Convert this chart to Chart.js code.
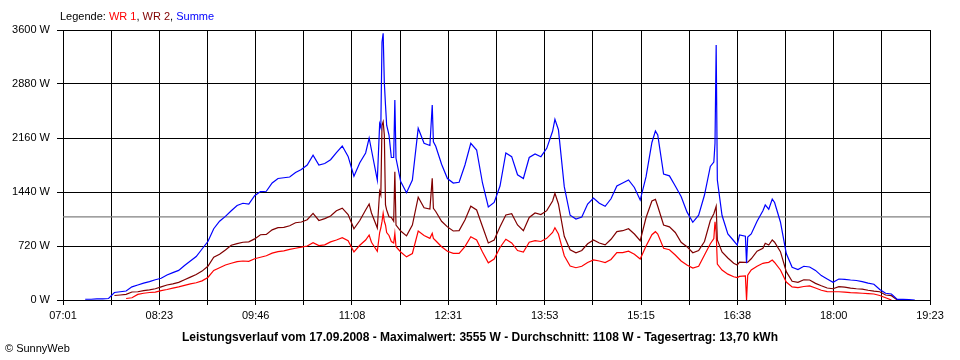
<!DOCTYPE html>
<html>
<head>
<meta charset="utf-8">
<script src="https://cdn.jsdelivr.net/npm/chart.js@4"></script>
<style>
  body { margin: 0; background: #fff; }
  #wrap { position: relative; width: 960px; height: 360px; font-family: "Liberation Sans", Arial, sans-serif; font-size: 11px; color: #000; }
  #legend { position: absolute; left: 60px; top: 10px; }
  #caption { position: absolute; left: 0; width: 960px; top: 330px; text-align: center; font-weight: bold; font-size: 12px; }
  #copy { position: absolute; left: 5px; top: 342px; }
</style>
</head>
<body>
<div id="wrap">
  <canvas id="chart" width="960" height="360"></canvas>
  <div id="legend">Legende: <span style="color:#ff0000">WR 1</span>, <span style="color:#800000">WR 2</span>, <span style="color:#0000ff">Summe</span></div>
  <div id="caption">Leistungsverlauf vom 17.09.2008 - Maximalwert: 3555 W - Durchschnitt: 1108 W - Tagesertrag: 13,70 kWh</div>
  <div id="copy">&copy; SunnyWeb</div>
</div>
<script>
// x-axis labels (every second grid line)
const tickLabels = ['07:01', '08:23', '09:46', '11:08', '12:31', '13:53', '15:15', '16:38', '18:00', '19:23'];
const yTicks = [0, 720, 1440, 2160, 2880, 3600];
const average = 1108;

// sample times, one line per block
const times = [
  '07:20','07:25','07:30','07:35','07:40','07:45','07:50','07:55',
  '08:00','08:05','08:10','08:15','08:20','08:25','08:30','08:35','08:40','08:45','08:50','08:55',
  '09:00','09:05','09:10','09:15','09:20','09:25','09:30','09:35','09:40','09:45','09:50','09:55',
  '10:00','10:05','10:10','10:15','10:20','10:25','10:30','10:35','10:40','10:45','10:50','10:55',
  '11:00','11:05','11:10','11:15','11:20','11:23','11:25','11:30','11:32','11:33','11:34','11:35','11:36','11:37','11:38','11:40','11:42','11:44','11:45','11:46','11:50','11:55',
  '12:00','12:05','12:10','12:15','12:17','12:18','12:20','12:25','12:30','12:35','12:40','12:45','12:50','12:55',
  '13:00','13:05','13:10','13:15','13:20','13:25','13:30','13:35','13:40','13:45','13:50','13:55',
  '14:00','14:02','14:05','14:10','14:15','14:20','14:25','14:30','14:35','14:40','14:45','14:50','14:55',
  '15:00','15:05','15:10','15:15','15:20','15:25','15:28','15:30','15:35','15:40','15:45','15:50','15:55',
  '16:00','16:05','16:10','16:15','16:18','16:19','16:20','16:21','16:25','16:30','16:35','16:38','16:40','16:45','16:46','16:47','16:50','16:55',
  '17:00','17:02','17:05','17:08','17:10','17:15','17:20','17:25','17:30','17:35','17:40','17:45','17:50','17:55',
  '18:00','18:05','18:10','18:15','18:20','18:25','18:30','18:35','18:40','18:45','18:50','18:55','19:00','19:05','19:10'
];

const summe = [
  10,10,15,15,20,100,110,120,
  175,200,225,245,270,290,333,365,395,460,520,580,
  680,780,950,1050,1115,1190,1260,1290,1280,1390,1445,1450,
  1560,1620,1630,1640,1700,1740,1800,1930,1800,1820,1870,1965,
  2053,1915,1650,1830,1960,2160,2000,1600,2350,2300,3440,3555,2900,2600,2330,2200,1900,1900,2667,1890,1580,1430,
  1600,2290,2090,2060,2600,2110,2050,1810,1620,1560,1570,1800,2090,2000,
  1560,1240,1300,1520,1960,1911,1670,1620,1900,1947,1911,2022,
  2250,2409,2270,1511,1130,1080,1107,1280,1360,1290,1250,1350,1520,
  1560,1600,1500,1333,1644,2100,2253,2200,1680,1655,1520,1380,1175,
  1036,1130,1400,1780,1840,2090,3400,1600,1130,880,790,733,867,850,489,840,880,1050,
  1190,1267,1210,1345,1300,1040,620,436,405,450,440,395,325,280,
  235,280,276,267,260,245,225,210,140,90,80,8,8,5,0
];

const wr2 = [
  null,null,null,null,null,60,67,75,
  107,110,125,135,150,175,200,215,235,270,305,340,
  385,450,570,610,668,730,752,770,775,815,870,875,
  935,964,968,990,1030,1040,1070,1155,1060,1085,1120,1190,
  1225,1140,950,1060,1200,1280,1160,960,1450,1400,2330,2378,2200,1267,1200,1110,1100,1050,1711,1000,920,855,
  1000,1370,1230,1213,1622,1222,1180,1050,975,920,925,1067,1250,1200,
  980,760,800,978,1133,1150,1000,924,1100,1160,1140,1191,
  1320,1422,1280,850,670,630,660,750,800,760,735,810,911,
  924,950,880,790,1100,1320,1342,1250,1000,975,900,770,711,
  630,660,780,1060,1150,1200,1250,800,640,560,490,467,505,502,502,505,550,650,
  690,756,733,800,770,644,378,250,235,270,267,222,190,160,
  150,178,172,158,150,145,130,118,110,67,58,0,null,null,null
];

const wr1 = [
  null,null,null,null,null,null,null,20,
  30,75,90,100,105,125,140,158,175,195,215,230,
  255,300,395,430,467,490,512,520,515,550,570,590,
  625,645,655,675,690,705,720,765,725,735,775,800,
  830,790,640,730,800,867,770,650,900,960,1044,1156,1050,1000,900,860,780,760,890,710,640,575,
  620,920,860,822,889,822,790,710,650,622,622,711,844,800,
  640,495,545,700,810,760,660,640,770,791,780,822,
  900,964,880,590,453,430,450,500,535,520,500,540,631,
  631,650,610,547,720,870,911,880,689,670,600,520,467,
  425,450,600,750,820,1044,900,480,400,345,310,298,315,320,0,330,400,450,
  489,495,502,533,500,400,240,175,164,180,187,160,130,112,
  110,110,105,98,95,90,85,80,60,30,0,null,null,null,null
];

function toMin(s) {
  const p = s.split(':');
  return Number(p[0]) * 60 + Number(p[1]);
}

const xMin = toMin(tickLabels[0]);
const xMax = toMin(tickLabels[tickLabels.length - 1]);

function series(values) {
  return times.map((t, i) => ({ x: toMin(t), y: values[i] }));
}

const font = { family: '"Liberation Sans", Arial, sans-serif', size: 11 };

const ctx = document.getElementById('chart').getContext('2d');
const chart = new Chart(ctx, {
  type: 'line',
  data: {
    datasets: [
      { label: 'Summe', data: series(summe), borderColor: '#0000ff', order: 1 },
      { label: 'WR 2', data: series(wr2), borderColor: '#800000', order: 2 },
      { label: 'WR 1', data: series(wr1), borderColor: '#ff0000', order: 3 },
      { label: 'Durchschnitt', data: [{ x: xMin, y: average }, { x: xMax, y: average }], borderColor: '#808080', order: 4 }
    ]
  },
  options: {
    responsive: false,
    animation: false,
    devicePixelRatio: 1,
    elements: {
      line: { borderWidth: 1.2, tension: 0 },
      point: { radius: 0 }
    },
    layout: { padding: { top: 30, right: 30, left: 0, bottom: 0 } },
    plugins: {
      legend: { display: false },
      tooltip: { enabled: false }
    },
    scales: {
      x: {
        type: 'linear',
        min: xMin,
        max: xMax,
        afterBuildTicks: (scale) => {
          const step = (xMax - xMin) / ((tickLabels.length - 1) * 2);
          const ticks = [];
          for (let i = 0; i <= (tickLabels.length - 1) * 2; i++) ticks.push({ value: xMin + i * step });
          scale.ticks = ticks;
        },
        afterFit: (scale) => { scale.height = 60; },
        grid: { color: '#000', lineWidth: 1, tickLength: 5 },
        border: { color: '#000' },
        ticks: {
          autoSkip: false,
          maxRotation: 0,
          padding: 4,
          color: '#000',
          font: font,
          callback: (v, i) => (i % 2 === 0 ? tickLabels[i / 2] : '')
        }
      },
      y: {
        min: 0,
        max: 3600,
        afterBuildTicks: (scale) => { scale.ticks = yTicks.map(v => ({ value: v })); },
        afterFit: (scale) => { scale.width = 63; },
        grid: { color: '#000', lineWidth: 1, tickLength: 6 },
        border: { color: '#000' },
        ticks: {
          padding: 7,
          color: '#000',
          font: font,
          callback: (v) => v + ' W'
        }
      }
    }
  }
});
</script>
</body>
</html>
